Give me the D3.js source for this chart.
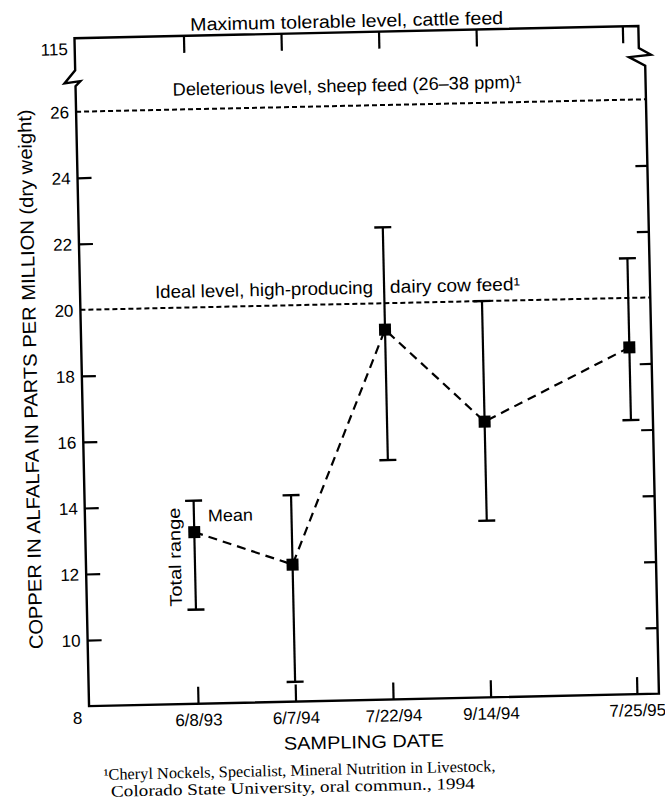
<!DOCTYPE html>
<html><head><meta charset="utf-8">
<script src="https://cdn.jsdelivr.net/npm/d3@7"></script>
<style>body{margin:0;background:#fff}</style>
</head><body><svg id="c" width="665" height="812"></svg>
<script>
// ---- data ----
const dates = ["6/8/93", "6/7/94", "7/22/94", "9/14/94", "7/25/95"];
const meanCu = [13.2, 12.15, 19.2, 16.35, 18.5];
const minCu = [10.85, 8.6, 15.25, 13.35, 16.3];
const maxCu = [14.15, 14.25, 22.3, 20.0, 21.2];
const yTickValues = [8, 10, 12, 14, 16, 18, 20, 22, 24, 26, 115];
const yTickMarks = [10, 12, 14, 16, 18, 22, 24];
const refLevels = [26, 20];
const maxLevel = 115;
const texts = {
  maxLabel: "Maximum tolerable level, cattle feed",
  delLabel: "Deleterious level, sheep feed (26–38 ppm)¹",
  idealA: "Ideal level, high-producing",
  idealB: "dairy cow feed¹",
  yTitle: "COPPER IN ALFALFA IN PARTS PER MILLION (dry weight)",
  xTitle: "SAMPLING DATE",
  mean: "Mean",
  range: "Total range",
  foot1: "¹Cheryl Nockels, Specialist, Mineral Nutrition in Livestock,",
  foot2: "Colorado State University, oral commun., 1994"
};

// ---- layout ----
const L = 82, R = 652, B = 700;
const sans = "Liberation Sans, Arial, Helvetica, sans-serif";
const serif = "Liberation Serif, Times New Roman, serif";
const svg = d3.select("#c");
const g = svg.append("g").attr("transform", "rotate(-1.25,365,380)");

const slot = d3.scaleOrdinal().domain(dates).range([0, 1, 2, 3, 4.5]);
const xs = d3.scaleLinear().domain([0, 4.5]).range([191, 630]);
const x = d => xs(slot(d));
const y = d3.scaleLinear().domain([8, 26, maxLevel]).range([B, 105.5, 32]);
const T = y(maxLevel);

// frame with axis breaks
const frame = d3.path();
frame.moveTo(L, B); frame.lineTo(L, 80); frame.lineTo(L + 5, 75); frame.lineTo(L - 11, 77);
frame.lineTo(L, 64); frame.lineTo(L, T); frame.lineTo(R - 6, T); frame.lineTo(R - 6, 54);
frame.lineTo(R + 6, 61); frame.lineTo(R - 16, 63); frame.lineTo(R, 72); frame.lineTo(R, B);
frame.closePath();
g.append("path").attr("d", frame.toString()).attr("fill", "none")
  .attr("stroke", "#000").attr("stroke-width", 2.4).attr("stroke-linejoin", "miter");

// left tick labels
const yAxisLab = g.append("g").attr("transform", `translate(${L},0)`)
  .call(d3.axisLeft(y).tickValues(yTickValues).tickSize(0).tickPadding(7).tickFormat(d3.format("d")));
yAxisLab.select(".domain").remove();
yAxisLab.selectAll("text").attr("font-family", sans).attr("font-size", 17).attr("fill", "#000")
  .attr("dy", d => d === 8 ? "1.0em" : d === 115 ? "0.95em" : "0.35em");
// left inward ticks
const yAxisT = g.append("g").attr("transform", `translate(${L},0)`)
  .call(d3.axisLeft(y).tickValues(yTickMarks).tickSizeInner(-14).tickSizeOuter(0).tickFormat(""));
yAxisT.select(".domain").remove();
yAxisT.selectAll("line").attr("stroke", "#000").attr("stroke-width", 2.2);
// right inward ticks
const yAxisR = g.append("g").attr("transform", `translate(${R},0)`)
  .call(d3.axisRight(y).tickValues(yTickMarks).tickSizeInner(-12).tickSizeOuter(0).tickFormat(""));
yAxisR.select(".domain").remove();
yAxisR.selectAll("line").attr("stroke", "#000").attr("stroke-width", 2.2);

// bottom axis
const xAxis = g.append("g").attr("transform", `translate(0,${B})`)
  .call(d3.axisBottom(xs).tickValues(dates.map(slot)).tickSizeInner(-17).tickSizeOuter(0)
    .tickPadding(10).tickFormat((v, i) => dates[i]));
xAxis.select(".domain").remove();
xAxis.selectAll("line").attr("stroke", "#000").attr("stroke-width", 2.2);
xAxis.selectAll("text").attr("font-family", sans).attr("font-size", 17).attr("fill", "#000");
// top mirror ticks
const xTop = g.append("g").attr("transform", `translate(0,${T})`)
  .call(d3.axisTop(xs).tickValues(dates.map(slot)).tickSizeInner(-17).tickSizeOuter(0).tickFormat(""));
xTop.select(".domain").remove();
xTop.selectAll("line").attr("stroke", "#000").attr("stroke-width", 2.2);

// reference dashed lines
g.selectAll("line.ref").data(refLevels).join("line").attr("class", "ref")
  .attr("x1", L).attr("x2", R).attr("y1", d => y(d)).attr("y2", d => y(d))
  .attr("stroke", "#000").attr("stroke-width", 2).attr("stroke-dasharray", "5,3");

// reference labels
g.append("text").attr("x", 198).attr("y", 27).attr("font-family", sans).attr("font-size", 18)
  .attr("textLength", 313).attr("lengthAdjust", "spacingAndGlyphs").text(texts.maxLabel);
g.append("text").attr("x", 179).attr("y", y(26) - 14).attr("font-family", sans).attr("font-size", 18)
  .attr("textLength", 349).attr("lengthAdjust", "spacingAndGlyphs").text(texts.delLabel);
g.append("text").attr("x", 157).attr("y", y(20) - 10).attr("font-family", sans).attr("font-size", 18)
  .attr("textLength", 218).attr("lengthAdjust", "spacingAndGlyphs").text(texts.idealA);
g.append("text").attr("x", 392).attr("y", y(20) - 10).attr("font-family", sans).attr("font-size", 18)
  .attr("textLength", 130).attr("lengthAdjust", "spacingAndGlyphs").text(texts.idealB);

// error bars
const idx = d3.range(dates.length);
g.selectAll("line.eb").data(idx).join("line").attr("class", "eb")
  .attr("x1", i => x(dates[i])).attr("x2", i => x(dates[i]))
  .attr("y1", i => y(minCu[i])).attr("y2", i => y(maxCu[i]))
  .attr("stroke", "#000").attr("stroke-width", 2.2);
[minCu, maxCu].forEach(arr => {
  g.selectAll(null).data(idx).join("line")
    .attr("x1", i => x(dates[i]) - 8.5).attr("x2", i => x(dates[i]) + 8.5)
    .attr("y1", i => y(arr[i])).attr("y2", i => y(arr[i]))
    .attr("stroke", "#000").attr("stroke-width", 2.4);
});

// mean connecting line
g.append("path").datum(idx)
  .attr("d", d3.line().x(i => x(dates[i])).y(i => y(meanCu[i])))
  .attr("fill", "none").attr("stroke", "#000").attr("stroke-width", 2.2).attr("stroke-dasharray", "9,6");
g.selectAll("rect.m").data(idx).join("rect").attr("class", "m")
  .attr("x", i => x(dates[i]) - 6).attr("y", i => y(meanCu[i]) - 6)
  .attr("width", 12).attr("height", 12).attr("fill", "#000");

// legend annotations
g.append("text").attr("x", 205).attr("y", 518).attr("font-family", sans).attr("font-size", 17)
  .attr("textLength", 45).attr("lengthAdjust", "spacingAndGlyphs").text(texts.mean);
g.append("text").attr("transform", "translate(177,553) rotate(-90)").attr("text-anchor", "middle")
  .attr("font-family", sans).attr("font-size", 17)
  .attr("textLength", 99).attr("lengthAdjust", "spacingAndGlyphs").text(texts.range);

// axis titles
g.append("text").attr("transform", "translate(37,372) rotate(-90)").attr("text-anchor", "middle")
  .attr("font-family", sans).attr("font-size", 19)
  .attr("textLength", 540).attr("lengthAdjust", "spacingAndGlyphs").text(texts.yTitle);
g.append("text").attr("x", 356).attr("y", 748).attr("text-anchor", "middle")
  .attr("font-family", sans).attr("font-size", 18)
  .attr("textLength", 160).attr("lengthAdjust", "spacingAndGlyphs").text(texts.xTitle);

// footnote
g.append("text").attr("x", 95).attr("y", 774).attr("font-family", serif).attr("font-size", 16)
  .attr("textLength", 392).attr("lengthAdjust", "spacingAndGlyphs").text(texts.foot1);
g.append("text").attr("x", 102).attr("y", 791).attr("font-family", serif).attr("font-size", 16)
  .attr("textLength", 364).attr("lengthAdjust", "spacingAndGlyphs").text(texts.foot2);
</script>
</body></html>
